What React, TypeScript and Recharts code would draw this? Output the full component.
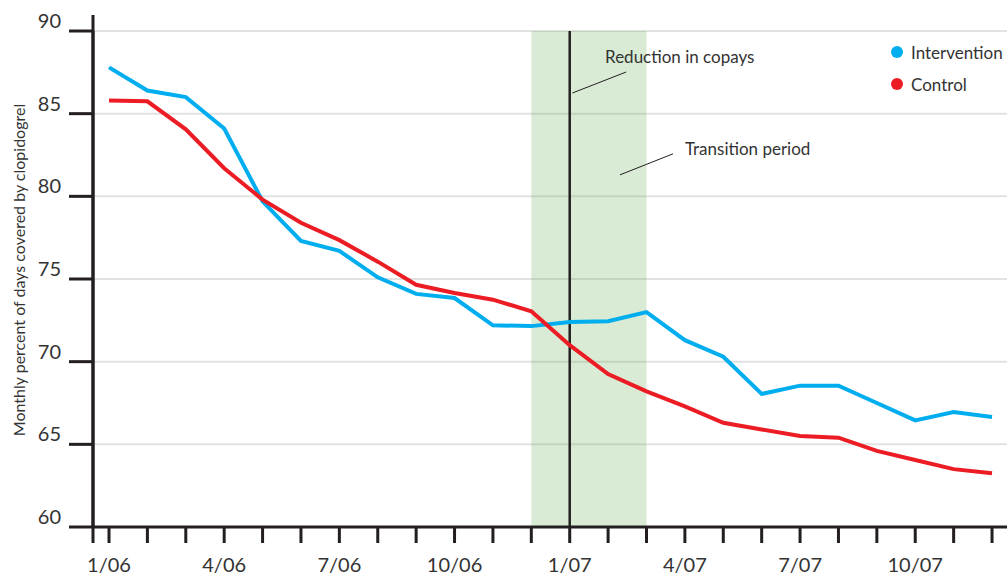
import React from 'react'
import {
  LineChart,
  Line,
  XAxis,
  YAxis,
  CartesianGrid,
  ReferenceArea,
  ReferenceLine,
  ReferenceDot,
} from 'recharts'

// months 1/06 .. 12/07
const MONTHS = [
  '1/06', '2/06', '3/06', '4/06', '5/06', '6/06', '7/06', '8/06', '9/06', '10/06', '11/06', '12/06',
  '1/07', '2/07', '3/07', '4/07', '5/07', '6/07', '7/07', '8/07', '9/07', '10/07', '11/07', '12/07',
]
const TICK_LABELS = ['1/06', '4/06', '7/06', '10/06', '1/07', '4/07', '7/07', '10/07']
const Y_TICKS = [60, 65, 70, 75, 80, 85, 90]

const INTERVENTION = [
  87.8, 86.4, 86.0, 84.1, 79.7, 77.3, 76.7, 75.1, 74.1, 73.85, 72.2, 72.15,
  72.4, 72.45, 73.0, 71.3, 70.3, 68.05, 68.55, 68.55, 67.5, 66.45, 66.95, 66.65,
]
const CONTROL = [
  85.8, 85.75, 84.05, 81.7, 79.8, 78.4, 77.35, 76.05, 74.65, 74.15, 73.75, 73.05,
  71.0, 69.25, 68.2, 67.3, 66.3, 65.9, 65.5, 65.4, 64.6, 64.05, 63.5, 63.25,
]

const SERIES = [
  { key: 'intervention', name: 'Intervention', color: '#00aeef' },
  { key: 'control', name: 'Control', color: '#ec1c24' },
]

const X_MIN = -0.417
const X_MAX = 23.39
const FONT = 'Lato, "Open Sans", sans-serif'
const INK = '#231f20'
const TEXT = '#333333'

const data = MONTHS.map((m, i) => ({
  i,
  month: m,
  intervention: INTERVENTION[i],
  control: CONTROL[i],
}))

const YTick = (props: any) => {
  const { x, y, payload } = props
  return (
    <text x={x} y={y - 3} textAnchor="end" fill={TEXT} fontSize={20} fontFamily={FONT}>
      {payload.value}
    </text>
  )
}

const XTick = (props: any) => {
  const { x, y, payload } = props
  const label = MONTHS[payload.value]
  if (!TICK_LABELS.includes(label)) return <g />
  return (
    <text x={x} y={y + 29} textAnchor="middle" fill={TEXT} fontSize={20} fontFamily={FONT}>
      {label}
    </text>
  )
}

// rotated axis title, baseline just left of the tick labels
const YTitle = (props: any) => {
  const vb = props.viewBox || {}
  const cx = 25
  const cy = vb.y + vb.height / 2 - 9
  return (
    <text
      x={cx}
      y={cy}
      transform={`rotate(-90, ${cx}, ${cy})`}
      textAnchor="middle"
      fill={TEXT}
      fontSize={16}
      fontFamily={FONT}
    >
      Monthly percent of days covered by clopidogrel
    </text>
  )
}

const note = (value: string) => (p: any) => (
  <text x={p.cx} y={p.cy} fill={TEXT} fontSize={17} fontFamily={FONT}>
    {value}
  </text>
)

export default function App() {
  return (
    <div style={{ position: 'absolute', left: 0, top: 0, width: 1007, height: 576, background: '#fff' }}>
      <LineChart width={1007} height={576} data={data} margin={{ top: 31, right: 0, bottom: 0, left: 0 }}>
        <CartesianGrid vertical={false} stroke="#e2e2e2" strokeWidth={2} />
        <ReferenceArea x1={11} x2={14} fill="rgb(90,168,69)" fillOpacity={0.23} stroke="none" />
        <XAxis
          dataKey="i"
          type="number"
          domain={[X_MIN, X_MAX]}
          ticks={MONTHS.map((_, i) => i)}
          interval={0}
          height={49}
          tickSize={16}
          tickMargin={0}
          tick={<XTick />}
          axisLine={{ stroke: INK, strokeWidth: 3 }}
          tickLine={{ stroke: INK, strokeWidth: 3 }}
        />
        <YAxis
          type="number"
          domain={[60, 90]}
          ticks={Y_TICKS}
          width={93}
          tickSize={24}
          tickMargin={8}
          tick={<YTick />}
          axisLine={{ stroke: INK, strokeWidth: 3 }}
          tickLine={{ stroke: INK, strokeWidth: 3 }}
          label={{ content: <YTitle /> }}
        />
        <ReferenceLine
          segment={[{ x: X_MIN, y: 59.03 }, { x: X_MIN, y: 90.97 }]}
          ifOverflow="visible"
          stroke={INK}
          strokeWidth={3}
        />
        <ReferenceLine x={12} stroke={INK} strokeWidth={2.5} />
        <ReferenceLine
          segment={[{ x: 12.07, y: 86.25 }, { x: 13.47, y: 87.52 }]}
          stroke={INK}
          strokeWidth={1}
        />
        <ReferenceLine
          segment={[{ x: 13.31, y: 81.3 }, { x: 14.69, y: 82.57 }]}
          stroke={INK}
          strokeWidth={1}
        />
        <ReferenceDot x={12.92} y={88.06} r={0} shape={note('Reduction in copays')} />
        <ReferenceDot x={15.0} y={82.5} r={0} shape={note('Transition period')} />
        {SERIES.map((s) => (
          <Line
            key={s.key}
            type="linear"
            dataKey={s.key}
            name={s.name}
            stroke={s.color}
            strokeWidth={4}
            dot={false}
            activeDot={false}
            isAnimationActive={false}
          />
        ))}
      </LineChart>
      <div style={{ position: 'absolute', left: 891, top: 36, fontFamily: FONT, fontSize: 17, color: TEXT }}>
        {SERIES.map((s) => (
          <div key={s.key} style={{ display: 'flex', alignItems: 'center', height: 32, whiteSpace: 'nowrap' }}>
            <span
              style={{ width: 12, height: 12, borderRadius: 6, background: s.color, display: 'inline-block', marginRight: 8 }}
            />
            {s.name}
          </div>
        ))}
      </div>
    </div>
  )
}
